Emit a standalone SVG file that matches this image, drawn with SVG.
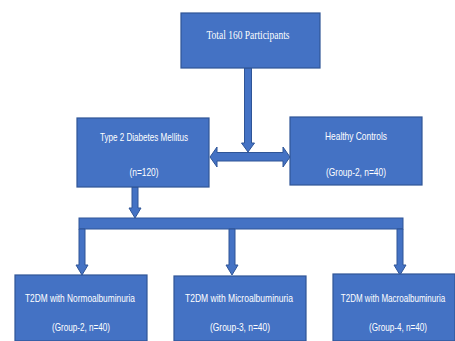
<svg xmlns="http://www.w3.org/2000/svg" width="455" height="341" viewBox="0 0 455 341">
<style>
.box{fill:#4472C4;stroke:#2F5597;stroke-width:1.2}
.conn{fill:#4472C4;stroke:#2F5597;stroke-width:1}
.t{fill:#ffffff;font-family:"Liberation Sans Narrow","Liberation Sans",Arial,sans-serif;font-size:11.5px;text-anchor:middle}
.ts{fill:#ffffff;font-family:"Liberation Serif","Times New Roman",serif;font-size:13px;text-anchor:middle}
</style>
<rect width="455" height="341" fill="#ffffff"/>
<g id="connectors">
<polygon class="conn" points="244.5,68 251.5,68 251.5,143 254.5,143 248,152 241.5,143 244.5,143"/>
<polygon class="conn" points="210,157 217,147 217,152.5 283,152.5 283,147 290,157 283,167 283,161 217,161 217,167"/>
<polygon class="conn" points="132,187 138,187 138,208 141,208 135,218 129,208 132,208"/>
<rect class="conn" x="79" y="218" width="324" height="11"/>
<polygon class="conn" points="79,229 85,229 85,265 88,265 82,275 76,265 79,265"/>
<polygon class="conn" points="229,229 235,229 235,265 238,265 232,275 226,265 229,265"/>
<polygon class="conn" points="397,229 403,229 403,265 406,265 400,275 394,265 397,265"/>
</g>
<g id="total">
<rect class="box" x="181" y="13" width="139" height="55"/>
<text class="ts" x="248" y="39" textLength="83" lengthAdjust="spacingAndGlyphs">Total 160 Participants</text>
</g>
<g id="t2dm">
<rect class="box" x="77" y="118" width="132" height="69"/>
<text class="t" x="144" y="141" textLength="88" lengthAdjust="spacingAndGlyphs">Type 2 Diabetes Mellitus</text>
<text class="t" x="144" y="176" textLength="29" lengthAdjust="spacingAndGlyphs">(n=120)</text>
</g>
<g id="healthy">
<rect class="box" x="290" y="117" width="132" height="68"/>
<text class="t" x="356" y="140" textLength="62" lengthAdjust="spacingAndGlyphs">Healthy Controls</text>
<text class="t" x="356" y="176" textLength="60" lengthAdjust="spacingAndGlyphs">(Group-2, n=40)</text>
</g>
<g id="normo">
<rect class="box" x="15" y="275" width="132" height="66"/>
<text class="t" x="80" y="302" textLength="110" lengthAdjust="spacingAndGlyphs">T2DM with Normoalbuminuria</text>
<text class="t" x="81" y="331" textLength="58" lengthAdjust="spacingAndGlyphs">(Group-2, n=40)</text>
</g>
<g id="micro">
<rect class="box" x="174" y="276" width="132" height="65"/>
<text class="t" x="239" y="302" textLength="108" lengthAdjust="spacingAndGlyphs">T2DM with Microalbuminuria</text>
<text class="t" x="240" y="331" textLength="60" lengthAdjust="spacingAndGlyphs">(Group-3, n=40)</text>
</g>
<g id="macro">
<rect class="box" x="333" y="274" width="122" height="67"/>
<text class="t" transform="translate(393,302) scale(0.7,1)" x="0" y="0">T2DM with Macroalbuminuria</text>
<text class="t" x="398" y="331" textLength="58" lengthAdjust="spacingAndGlyphs">(Group-4, n=40)</text>
</g>
</svg>
